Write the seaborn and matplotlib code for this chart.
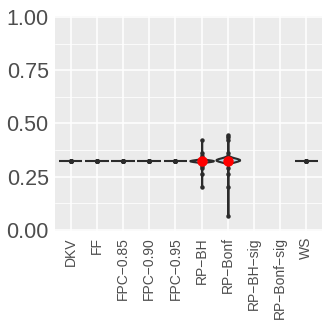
import numpy as np
import pandas as pd
import matplotlib
matplotlib.use("Agg")
import matplotlib.pyplot as plt
from matplotlib.ticker import MultipleLocator
import seaborn as sns

# Categories (x order) and per-method proportions
methods = ["DKV", "FF", "FPC-0.85", "FPC-0.90", "FPC-0.95",
           "RP-BH", "RP-Bonf", "RP-BH-sig", "RP-Bonf-sig", "WS"]
flat_methods = ["DKV", "FF", "FPC-0.85", "FPC-0.90", "FPC-0.95", "WS"]
rp_methods = ["RP-BH", "RP-Bonf"]
flat_value = 0.322
n_runs = 30
rp_bh = [0.424, 0.363, 0.349] + [0.325] * 30 + [0.302, 0.289, 0.263, 0.203]
rp_bonf = [0.446, 0.436, 0.423, 0.363] + [0.329] * 30 + [0.293, 0.263, 0.203, 0.067]
y_ticks = [0.0, 0.25, 0.50, 0.75, 1.00]

rows = []
for m in flat_methods:
    rows += [(m, flat_value)] * n_runs
rows += [("RP-BH", v) for v in rp_bh]
rows += [("RP-Bonf", v) for v in rp_bonf]
df = pd.DataFrame(rows, columns=["method", "prop"])
df_rp = df[df["method"].isin(rp_methods)]

sns.set_style("white")
plt.rcParams["font.family"] = ["Liberation Sans", "DejaVu Sans"]

fig = plt.figure(figsize=(3.27, 3.27), dpi=100)
ax = fig.add_axes([0.168, 0.294, 0.817, 0.657])
ax.set_facecolor("#EBEBEB")

sns.violinplot(data=df, x="method", y="prop", order=methods, ax=ax,
               color="#ADD8E6", linecolor="#2B2B2B", linewidth=1.5,
               density_norm="width", cut=0, inner=None, width=0.9,
               bw_adjust=0.32, saturation=1)
sns.stripplot(data=df, x="method", y="prop", order=methods, ax=ax,
              jitter=False, color="#2B2B2B", size=3.2, zorder=3)
# mean marker for the RP methods
sns.pointplot(data=df_rp, x="method", y="prop", order=methods, ax=ax,
              estimator="mean", errorbar=None, color="red",
              linestyle="none", markersize=5.5, zorder=4)

ax.set_xlim(-0.6, len(methods) - 0.4)
ax.set_ylim(-0.004, 1.004)
ax.set_yticks(y_ticks)
ax.set_yticklabels([f"{t:.2f}" for t in y_ticks])
ax.yaxis.set_minor_locator(MultipleLocator(0.125))
ax.set_xticks(range(len(methods)))
ax.set_xticklabels([m.replace("-", "\u2212") for m in methods],
                   rotation=90, va="top", ha="center")

ax.grid(True, which="major", color="white", linewidth=1.1)
ax.grid(True, which="minor", axis="y", color="white", linewidth=0.55)
ax.set_axisbelow(True)
for spine in ax.spines.values():
    spine.set_visible(False)
ax.tick_params(axis="both", which="major", length=3, width=0.8,
               color="#333333", labelcolor="#4D4D4D", pad=1.5)
ax.tick_params(axis="y", labelsize=15.5)
ax.tick_params(axis="x", labelsize=10)
ax.tick_params(which="minor", length=0)
ax.set_xlabel("")
ax.set_ylabel("")

fig.savefig("out.png", dpi=100, facecolor="white")
